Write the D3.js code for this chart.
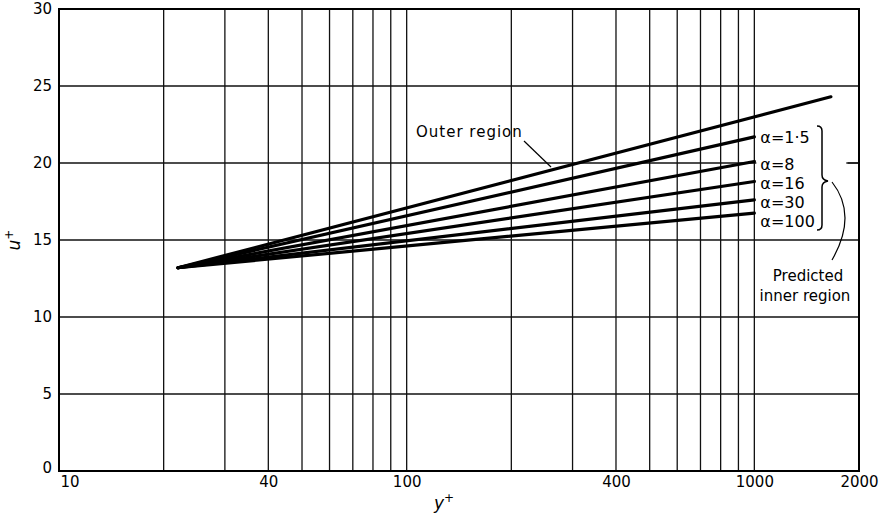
<!DOCTYPE html>
<html>
<head>
<meta charset="utf-8">
<script src="https://cdn.jsdelivr.net/npm/d3@7"></script>
<style>
  body { margin: 0; background: white; }
  svg { display: block; font-family: "DejaVu Sans", sans-serif; }
</style>
</head>
<body>
<div class="chart"></div>
<script>
    // axis values
    var xTickVals = [10, 40, 100, 400, 1000, 2000];
    var xGridVals = [20, 30, 40, 50, 60, 70, 80, 90, 100, 200, 300, 400, 500, 600, 700, 800, 900, 1000];
    var yTickVals = [0, 5, 10, 15, 20, 25, 30];

    // curves (y+, u+), all leave the same point
    var startYp = 22, startUp = 13.2;
    var outerYp = [22, 1660];
    var outerUp = [13.2, 24.3];
    var innerNames = ["α=1·5", "α=8", "α=16", "α=30", "α=100"];
    var innerEndYp = 1000;
    var innerEndUp = [21.7, 20.1, 18.8, 17.6, 16.75];

    var svg = d3.select(".chart")
                  .append("svg")
                  .attr("width", 884)
                  .attr("height", 517)
                  .style("background-color", "white");

    var x = d3.scaleLog().domain([10, 2000]).range([59, 859]);
    var y = d3.scaleLinear().domain([0, 30]).range([471, 9]);

    // vertical grid
    for (i = 0; i < xGridVals.length; i++) {
      svg.append("line")
            .attr("x1", x(xGridVals[i]))
            .attr("y1", y(0))
            .attr("x2", x(xGridVals[i]))
            .attr("y2", y(30))
            .attr("stroke-width", 1.3)
            .attr("stroke", "#111");
    }
    // horizontal grid
    for (i = 1; i < yTickVals.length - 1; i++) {
      svg.append("line")
            .attr("x1", x(10))
            .attr("y1", y(yTickVals[i]))
            .attr("x2", x(2000))
            .attr("y2", y(yTickVals[i]))
            .attr("stroke-width", 1.3)
            .attr("stroke", "#111");
    }

    // blank panel behind the alpha labels
    svg.append("rect")
          .attr("x", x(1000) + 2)
          .attr("y", y(22.3))
          .attr("width", 90)
          .attr("height", y(15.6) - y(22.3))
          .attr("fill", "white");
    // little stub of the 20 line at the right border
    svg.append("line")
          .attr("x1", x(2000) - 11)
          .attr("y1", y(20))
          .attr("x2", x(2000))
          .attr("y2", y(20))
          .attr("stroke-width", 1.3)
          .attr("stroke", "#111");

    // frame
    svg.append("rect")
          .attr("x", x(10))
          .attr("y", y(30))
          .attr("width", x(2000) - x(10))
          .attr("height", y(0) - y(30))
          .attr("fill", "none")
          .attr("stroke", "black")
          .attr("stroke-width", 2);

    // tick labels
    var xAxis = d3.axisBottom(x).tickValues(xTickVals).tickSize(0).tickPadding(5)
                  .tickFormat(d3.format("d"));
    svg.append("g")
          .attr("transform", "translate(0," + y(0) + ")")
          .call(xAxis)
          .call(function(g) { g.select(".domain").remove(); })
          .selectAll("text")
          .style("font-size", "15px")
          .style("font-family", "DejaVu Sans")
          .attr("fill", "black")
          .attr("text-anchor", function(d) { return d === 10 ? "start" : "middle"; })
          .attr("dx", function(d) { return d === 10 ? 1 : 0; });

    var yAxis = d3.axisLeft(y).tickValues(yTickVals).tickSize(0).tickPadding(7);
    svg.append("g")
          .attr("transform", "translate(" + x(10) + ",0)")
          .call(yAxis)
          .call(function(g) { g.select(".domain").remove(); })
          .selectAll("text")
          .style("font-size", "15px")
          .style("font-family", "DejaVu Sans")
          .attr("fill", "black")
          .attr("dy", function(d) { return d === 0 ? "0.1em" : "0.32em"; });

    // axis titles
    svg.append("text")
          .attr("x", 444)
          .attr("y", 509)
          .attr("text-anchor", "middle")
          .style("font-size", "17px")
          .style("font-style", "italic")
          .text("y")
          .append("tspan")
          .attr("dy", -7)
          .style("font-size", "12px")
          .style("font-style", "normal")
          .text("+");
    svg.append("text")
          .attr("transform", "translate(20,240) rotate(-90)")
          .attr("text-anchor", "middle")
          .style("font-size", "17px")
          .style("font-style", "italic")
          .text("u")
          .append("tspan")
          .attr("dy", -7)
          .style("font-size", "12px")
          .style("font-style", "normal")
          .text("+");

    var line = d3.line()
                  .x(function(d) { return x(d[0]); })
                  .y(function(d) { return y(d[1]); });

    // outer region
    svg.append("path")
          .datum(outerYp.map(function(v, k) { return [v, outerUp[k]]; }))
          .attr("d", line)
          .attr("fill", "none")
          .attr("stroke", "black")
          .attr("stroke-width", 3.2)
          .attr("stroke-linecap", "round");

    // predicted inner region
    var labelShift = [1, 3, 2, 2, 8];
    for (i = 0; i < innerNames.length; i++) {
      svg.append("path")
            .datum([[startYp, startUp], [innerEndYp, innerEndUp[i]]])
            .attr("d", line)
            .attr("fill", "none")
            .attr("stroke", "black")
            .attr("stroke-width", 3.2)
            .attr("stroke-linecap", "round");
      svg.append("text")
            .attr("x", x(innerEndYp) + 6)
            .attr("y", y(innerEndUp[i]) + labelShift[i])
            .attr("dy", "0.35em")
            .style("font-size", "16px")
            .text(innerNames[i]);
    }

    // bracket
    svg.append("path")
          .attr("d", "M817,126 Q822,126 822,131 L822,175 Q822,180 828,181 Q822,182 822,187 L822,225 Q822,230 817,230")
          .attr("fill", "none")
          .attr("stroke", "black")
          .attr("stroke-width", 1.5);
    // leader to "Predicted inner region"
    svg.append("path")
          .attr("d", "M832,182 Q858,215 832,260")
          .attr("fill", "none")
          .attr("stroke", "black")
          .attr("stroke-width", 1.2);
    svg.append("text")
          .attr("x", 808)
          .attr("y", 281)
          .attr("text-anchor", "middle")
          .style("font-size", "15px")
          .text("Predicted");
    svg.append("text")
          .attr("x", 805)
          .attr("y", 301)
          .attr("text-anchor", "middle")
          .style("font-size", "15px")
          .text("inner region");

    // outer region label
    svg.append("text")
          .attr("x", 416)
          .attr("y", 137)
          .style("font-size", "15px")
          .style("letter-spacing", "1px")
          .text("Outer region");
    svg.append("line")
          .attr("x1", 524)
          .attr("y1", 141)
          .attr("x2", 551)
          .attr("y2", 167)
          .attr("stroke", "black")
          .attr("stroke-width", 1.2);
</script>
</body>
</html>
